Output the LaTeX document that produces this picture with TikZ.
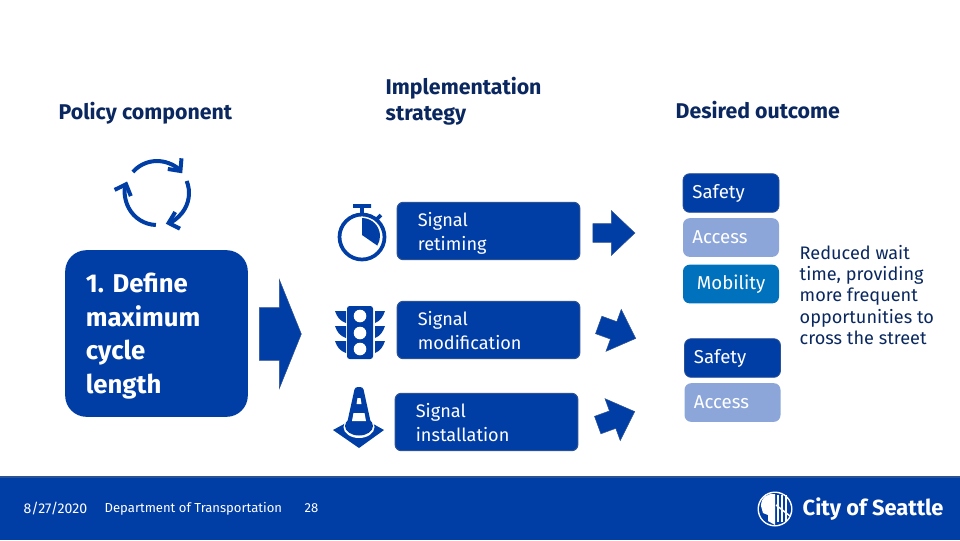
\documentclass[tikz,border=0pt]{standalone}
\usepackage{fontspec}
\setmainfont{Fira Sans}
\usepackage{xcolor}
\usetikzlibrary{arrows.meta, shapes.arrows}
\definecolor{seablue}{RGB}{0,61,165}
\definecolor{edgeblue}{RGB}{44,82,150}
\definecolor{paleblue}{RGB}{140,166,218}
\definecolor{midblue}{RGB}{0,113,188}
\definecolor{inkblue}{RGB}{10,40,95}
\frenchspacing

\begin{document}
\begin{tikzpicture}[
  x=0.75pt, y=-0.75pt,
  title/.style={anchor=west, align=left, text=inkblue, font=\fontsize{16}{19.5}\selectfont\bfseries},
  stepbox/.style={draw=edgeblue, fill=seablue, line width=0.8pt, rounded corners=4.5pt, minimum width=137pt, minimum height=43pt,
              text width=106pt, align=left, text=white, font=\fontsize{13.6}{18}\selectfont, execute at begin node=\rule{0pt}{#1}},
  stepbox/.default=14.5pt,
  policybox/.style={fill=seablue, rounded corners=16pt, minimum width=137pt, minimum height=125pt, text width=106pt, align=left,
              text=white, font=\fontsize{19.3}{25.2}\selectfont\bfseries, execute at begin node=\rule{0pt}{18.5pt}},
  goal/.style={rounded corners=5pt, minimum width=72pt, minimum height=29pt, text width=58pt, align=left, text=white, inner sep=0pt, font=\fontsize{14}{15}\selectfont},
  goaldark/.style={goal, fill=seablue, draw=edgeblue, line width=0.6pt},
  goallight/.style={goal, fill=paleblue},
  goalmid/.style={goal, fill=midblue, align=center},
  blockarr/.style={single arrow, fill=seablue, draw=edgeblue, line width=0.4pt, inner xsep=0pt, single arrow head indent=0pt},
  smallarr/.style={blockarr, minimum height=31.5pt, inner ysep=6.75pt, single arrow tip angle=87, single arrow head extend=9.75pt},
  foot/.style={anchor=west, text=white, font=\fontsize{9.8}{12}\selectfont},
  icon/.style={seablue, line width=2.8pt},
  turn/.style={icon, line width=3pt, -{Straight Barb[length=7pt,width=13pt,line width=3pt]}}
]
  \useasboundingbox (0,0) rectangle (960,540);

  % column titles
  \node[title] (policy) at (54,113.5) {Policy component};
  \node[title] (strategy) at (381,101.5) {Implementation\\strategy};
  \node[title] (outcome) at (671,110) {Desired outcome};

  % cycle icon
  \coordinate (cyc) at (157,193);
  \draw[turn] (cyc) ++(-139:32) arc[start angle=-139, end angle=-38, radius=32];
  \draw[turn] (cyc) ++(-22:32) arc[start angle=-22, end angle=74, radius=32];
  \draw[turn] (cyc) ++(92:32) arc[start angle=92, end angle=201, radius=32];

  % policy box
  \node[policybox] (define) at (156.5,333.5) {1. Define\\maximum\\cycle\\length};
  \node[blockarr, minimum height=31.5pt, inner ysep=19.5pt, single arrow tip angle=136, single arrow head extend=21pt] (bigarr) at (275,334) {};

  % stopwatch
  \draw[icon] (362,237) circle (22.5);
  \fill[seablue] (362,235) -- (362,218) arc[start angle=-90, end angle=32, radius=18] -- cycle;
  \draw[icon, line width=2.8pt] (353,206) -- (371,206) (362,206) -- (362,214) (376,220) -- (381,215);

  % traffic light
  \fill[seablue, rounded corners=2pt] (347,306) rectangle (373,359);
  \foreach \y in {316,333,349}
    \fill[white] (360,\y) circle (6.3);
  \foreach \y in {311,326,341} {
    \fill[seablue] (335,\y) -- (346,\y) -- (346,\y+12) .. controls (340,\y+10) and (337,\y+6) .. cycle;
    \fill[seablue] (385,\y) -- (375,\y) -- (375,\y+12) .. controls (380,\y+10) and (383,\y+6) .. cycle;
  }

  % cone
  \fill[seablue] (333,430) -- (359,416) -- (384,430) -- (359,448) -- cycle;
  \fill[white] (359,427) ellipse (15.5 and 11);
  \fill[seablue] (359,426) ellipse (14 and 9.5);
  \fill[seablue, rounded corners=2pt] (355,387) -- (363,387) -- (372,428) -- (346,428) -- cycle;
  \fill[white] (357.5,398) -- (360.5,398) -- (361.5,404) -- (356.5,404) -- cycle;
  \fill[white] (353.5,413) -- (364.5,413) -- (366,421) -- (352,421) -- cycle;

  % implementation boxes
  \node[stepbox] (retime) at (488.5,231) {Signal\\retiming};
  \node[stepbox=11.5pt] (modify) at (488.5,330) {Signal\\modification};
  \node[stepbox=11.5pt] (install) at (486.5,422) {Signal\\installation};

  \node[smallarr] (arrone) at (609,233) {};
  \node[smallarr, minimum height=29.5pt, rotate=-20] (arrtwo) at (612.6,330) {};
  \node[smallarr, minimum height=29.5pt, rotate=20] (arrthree) at (611.6,420) {};

  % outcomes
  \node[goaldark] (safetya) at (731,193) {Safety};
  \node[goallight] (accessa) at (731,237.5) {Access};
  \node[goalmid] (mobility) at (731,284) {Mobility};
  \node[goaldark] (safetyb) at (732.5,358) {Safety};
  \node[goallight] (accessb) at (732.5,402.5) {Access};
  \node[anchor=west, align=left, text=inkblue, font=\fontsize{13.6}{16.1}\selectfont] (result) at (795,295)
    {Reduced wait\\time, providing\\more frequent\\opportunities to\\cross the street};

  % footer
  \fill[seablue] (0,476) rectangle (960,540);
  \fill[edgeblue] (0,476) rectangle (960,478);
  \node[foot, font=\fontsize{10.6}{12}\selectfont] (date) at (19,508.5) {8/27/2020};
  \node[foot] (dept) at (100,508.5) {Department of Transportation};
  \node[foot] (page) at (300,508.5) {28};

  % seal
  \fill[white] (775,509) circle (17.5);
  \fill[seablue] (775,509) circle (16);
  \fill[white] (761,506) .. controls (761,497) and (768,493) .. (775,494) -- (775,525) -- (768,521) -- (768,515) -- (763,513) -- cycle;
  \foreach \x in {778,782,786}
    \draw[white, line width=1.1pt] (\x,495) -- (\x,522);
  \draw[white, line width=1.1pt] (776,505) -- (790,516);
  \node[anchor=west, text=white, font=\fontsize{16.4}{18}\selectfont\bfseries] (city) at (798,509) {City of Seattle};
\end{tikzpicture}
\end{document}
